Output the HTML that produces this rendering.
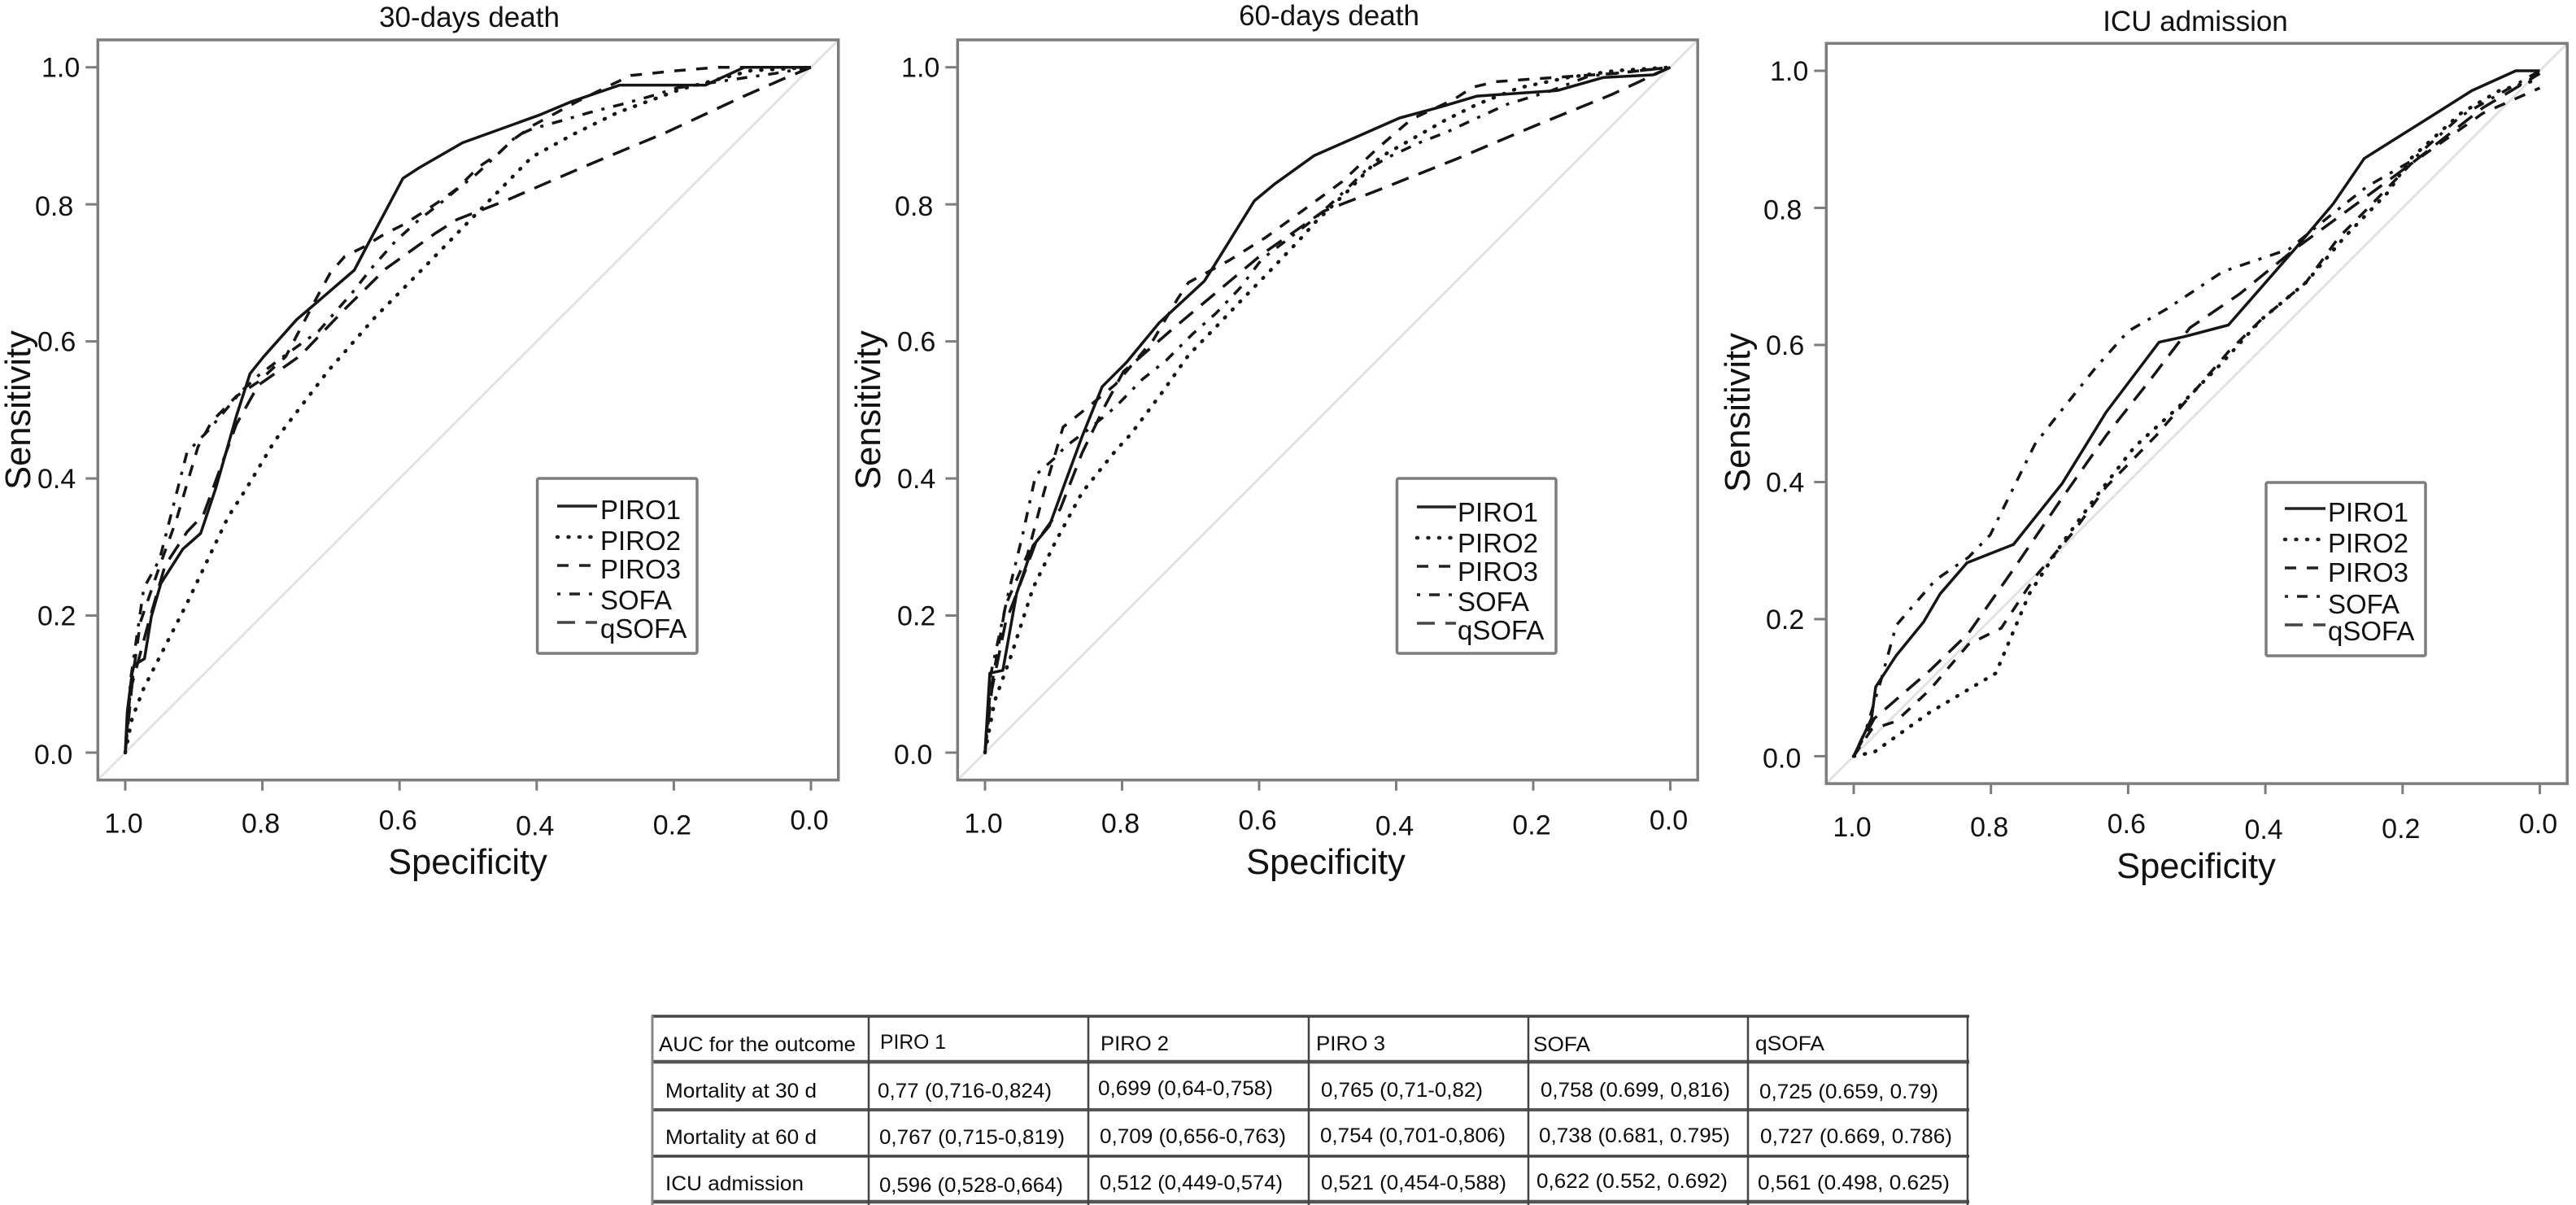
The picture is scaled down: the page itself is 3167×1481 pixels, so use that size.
<!DOCTYPE html>
<html lang="en">
<head>
<meta charset="utf-8">
<title>ROC curves for PIRO, SOFA and qSOFA</title>
<style>
html,body{margin:0;padding:0;background:#fff;width:3167px;height:1481px;overflow:hidden}
svg{display:block;font-family:"Liberation Sans",Arial,sans-serif}
.cell{font-size:25px;fill:#0c0c0c}
</style>
</head>
<body>
<svg id="figure" xmlns="http://www.w3.org/2000/svg" width="3167" height="1481" viewBox="0 0 3167 1481">
<rect x="0" y="0" width="3167" height="1481" fill="#fff"/>
<g id="charts"></g>
<g id="auc-table">
<g stroke="#444" stroke-width="3.5">
<line x1="801" y1="1249" x2="2421" y2="1249"/>
<line x1="801" y1="1305" x2="2421" y2="1305" stroke="#555" stroke-width="4.5"/>
<line x1="801" y1="1364" x2="2421" y2="1364" stroke="#555" stroke-width="4"/>
<line x1="801" y1="1421" x2="2421" y2="1421"/>
<line x1="801" y1="1477" x2="2421" y2="1477" stroke="#555" stroke-width="4.5"/>
<line x1="802" y1="1248" x2="802" y2="1481" stroke="#888" stroke-width="3"/>
<line x1="1068" y1="1248" x2="1068" y2="1481" stroke-width="2.5"/>
<line x1="1338" y1="1248" x2="1338" y2="1481" stroke-width="2.5"/>
<line x1="1609" y1="1248" x2="1609" y2="1481" stroke-width="2.5"/>
<line x1="1879" y1="1248" x2="1879" y2="1481" stroke-width="2.5"/>
<line x1="2149" y1="1248" x2="2149" y2="1481" stroke-width="2.5"/>
<line x1="2419" y1="1248" x2="2419" y2="1481" stroke-width="2.5"/>
</g>
<text class="cell" x="810" y="1292" textLength="242" lengthAdjust="spacingAndGlyphs">AUC for the outcome</text>
<text class="cell" x="1082" y="1289" textLength="81" lengthAdjust="spacingAndGlyphs">PIRO 1</text>
<text class="cell" x="1353" y="1291" textLength="84" lengthAdjust="spacingAndGlyphs">PIRO 2</text>
<text class="cell" x="1618" y="1291" textLength="85" lengthAdjust="spacingAndGlyphs">PIRO 3</text>
<text class="cell" x="1885" y="1292" textLength="70" lengthAdjust="spacingAndGlyphs">SOFA</text>
<text class="cell" x="2158" y="1291" textLength="85" lengthAdjust="spacingAndGlyphs">qSOFA</text>

<text class="cell" x="818" y="1349" textLength="186" lengthAdjust="spacingAndGlyphs">Mortality at 30 d</text>
<text class="cell" x="1079" y="1349" textLength="214" lengthAdjust="spacingAndGlyphs">0,77 (0,716-0,824)</text>
<text class="cell" x="1350" y="1346" textLength="215" lengthAdjust="spacingAndGlyphs">0,699 (0,64-0,758)</text>
<text class="cell" x="1624" y="1348" textLength="199" lengthAdjust="spacingAndGlyphs">0,765 (0,71-0,82)</text>
<text class="cell" x="1894" y="1348" textLength="233" lengthAdjust="spacingAndGlyphs">0,758 (0.699, 0,816)</text>
<text class="cell" x="2163" y="1350" textLength="220" lengthAdjust="spacingAndGlyphs">0,725 (0.659, 0.79)</text>

<text class="cell" x="818" y="1406" textLength="186" lengthAdjust="spacingAndGlyphs">Mortality at 60 d</text>
<text class="cell" x="1081" y="1406" textLength="228" lengthAdjust="spacingAndGlyphs">0,767 (0,715-0,819)</text>
<text class="cell" x="1352" y="1405" textLength="229" lengthAdjust="spacingAndGlyphs">0,709 (0,656-0,763)</text>
<text class="cell" x="1623" y="1404" textLength="228" lengthAdjust="spacingAndGlyphs">0,754 (0,701-0,806)</text>
<text class="cell" x="1892" y="1404" textLength="235" lengthAdjust="spacingAndGlyphs">0,738 (0.681, 0.795)</text>
<text class="cell" x="2164" y="1405" textLength="236" lengthAdjust="spacingAndGlyphs">0,727 (0.669, 0.786)</text>

<text class="cell" x="818" y="1463" textLength="170" lengthAdjust="spacingAndGlyphs">ICU admission</text>
<text class="cell" x="1081" y="1465" textLength="226" lengthAdjust="spacingAndGlyphs">0,596 (0,528-0,664)</text>
<text class="cell" x="1352" y="1462" textLength="225" lengthAdjust="spacingAndGlyphs">0,512 (0,449-0,574)</text>
<text class="cell" x="1624" y="1462" textLength="228" lengthAdjust="spacingAndGlyphs">0,521 (0,454-0,588)</text>
<text class="cell" x="1889" y="1460" textLength="235" lengthAdjust="spacingAndGlyphs">0,622 (0.552, 0.692)</text>
<text class="cell" x="2161" y="1462" textLength="236" lengthAdjust="spacingAndGlyphs">0,561 (0.498, 0.625)</text>
</g>
</svg>
<script>
// Tick labels and series names
const tickLabels = ["0.0", "0.2", "0.4", "0.6", "0.8", "1.0"];
const tickValues = [0, 0.2, 0.4, 0.6, 0.8, 1];
const seriesNames = ["PIRO1", "PIRO2", "PIRO3", "SOFA", "qSOFA"];
const seriesDash = ["none", "1 12.5", "14 13", "4 11 13 11", "22 13"];

// Each point is [specificity, sensitivity]
const d30Piro1 = [[1,0],[.997,.06],[.99,.116],[.987,.128],[.972,.137],[.962,.198],[.948,.247],[.916,.297],[.89,.32],[.868,.386],[.838,.491],[.818,.553],[.798,.578],[.75,.632],[.717,.66],[.666,.704],[.646,.742],[.595,.838],[.572,.853],[.508,.89],[.397,.93],[.349,.95],[.279,.974],[.154,.974],[.097,1],[0,1]];
const d30Piro2 = [[1,0],[.99,.05],[.973,.094],[.91,.218],[.85,.344],[.823,.386],[.782,.455],[.705,.556],[.636,.635],[.568,.704],[.5,.774],[.448,.827],[.407,.869],[.347,.902],[.282,.934],[.19,.968],[.088,.995],[0,1]];
const d30Piro3 = [[1,0],[.994,.075],[.978,.19],[.95,.272],[.926,.338],[.894,.446],[.874,.483],[.838,.52],[.806,.541],[.766,.578],[.718,.669],[.701,.7],[.68,.724],[.652,.738],[.623,.756],[.595,.77],[.568,.787],[.538,.807],[.516,.823],[.484,.855],[.457,.873],[.435,.894],[.404,.916],[.341,.95],[.288,.976],[.263,.988],[.196,.995],[.135,1],[0,1]];
const d30Sofa = [[1,0],[.992,.108],[.973,.24],[.95,.282],[.91,.438],[.878,.471],[.83,.528],[.806,.55],[.772,.576],[.718,.615],[.669,.671],[.639,.709],[.606,.746],[.571,.778],[.541,.801],[.516,.822],[.489,.843],[.461,.869],[.429,.9],[.407,.91],[.364,.922],[.323,.934],[.276,.946],[.233,.958],[.195,.97],[.108,.983],[.053,.991],[0,1]];
const d30Qsofa = [[1,0],[.99,.1],[.966,.19],[.942,.273],[.91,.322],[.886,.347],[.862,.413],[.838,.479],[.806,.536],[.745,.579],[.68,.647],[.62,.706],[.549,.757],[.516,.778],[.446,.805],[.326,.857],[.211,.905],[.102,.956],[.043,.982],[0,1]];

const d60Piro1 = [[1,0],[.993,.116],[.974,.12],[.954,.232],[.93,.302],[.906,.331],[.882,.397],[.858,.462],[.829,.534],[.794,.569],[.746,.627],[.68,.688],[.666,.71],[.607,.805],[.577,.83],[.52,.871],[.395,.926],[.336,.942],[.282,.958],[.165,.966],[.098,.985],[.025,.989],[0,1]];
const d60Piro2 = [[1,0],[.986,.075],[.962,.141],[.93,.24],[.898,.306],[.858,.38],[.81,.44],[.787,.465],[.742,.525],[.703,.58],[.663,.621],[.624,.662],[.585,.702],[.543,.746],[.518,.774],[.47,.82],[.423,.869],[.33,.922],[.282,.946],[.221,.97],[.15,.985],[.08,.995],[0,1]];
const d60Piro3 = [[1,0],[.993,.083],[.97,.215],[.938,.289],[.914,.38],[.886,.475],[.85,.504],[.81,.537],[.754,.603],[.719,.662],[.703,.686],[.644,.718],[.59,.752],[.535,.792],[.479,.833],[.428,.881],[.378,.924],[.316,.953],[.288,.971],[.255,.979],[.142,.987],[.08,.991],[0,1]];
const d60Sofa = [[1,0],[.993,.108],[.966,.232],[.946,.314],[.926,.405],[.898,.43],[.882,.447],[.85,.471],[.81,.504],[.77,.545],[.736,.572],[.697,.611],[.663,.641],[.627,.679],[.596,.72],[.562,.746],[.518,.78],[.484,.811],[.445,.849],[.411,.869],[.366,.89],[.325,.906],[.282,.926],[.238,.946],[.176,.965],[.119,.987],[0,1]];
const d60Qsofa = [[1,0],[.99,.092],[.97,.19],[.954,.232],[.926,.306],[.89,.356],[.858,.438],[.826,.504],[.798,.556],[.73,.615],[.663,.671],[.596,.727],[.506,.79],[.423,.822],[.31,.867],[.199,.914],[.086,.96],[0,1]];

const icuPiro1 = [[1,0],[.974,.055],[.968,.101],[.938,.147],[.898,.196],[.874,.237],[.835,.282],[.767,.309],[.696,.398],[.632,.502],[.555,.604],[.519,.612],[.454,.629],[.357,.74],[.301,.806],[.256,.872],[.164,.93],[.099,.971],[.035,1],[0,1]];
const icuPiro2 = [[1,0],[.97,.006],[.889,.064],[.793,.121],[.744,.237],[.696,.311],[.648,.377],[.591,.451],[.527,.509],[.462,.575],[.406,.637],[.341,.691],[.285,.757],[.221,.823],[.188,.872],[.115,.938],[.059,.971],[0,.988]];
const icuPiro3 = [[1,0],[.974,.039],[.938,.051],[.889,.097],[.833,.163],[.785,.187],[.736,.261],[.68,.327],[.632,.393],[.559,.468],[.503,.533],[.454,.59],[.406,.637],[.341,.691],[.293,.757],[.252,.798],[.188,.864],[.083,.938],[0,.975]];
const icuSofa = [[1,0],[.982,.039],[.962,.105],[.938,.191],[.881,.257],[.833,.29],[.801,.323],[.736,.455],[.704,.496],[.648,.566],[.6,.62],[.543,.653],[.462,.707],[.365,.74],[.309,.786],[.252,.831],[.188,.868],[.115,.934],[0,1]];
const icuQsofa = [[1,0],[.97,.055],[.889,.125],[.833,.179],[.769,.27],[.696,.377],[.632,.468],[.567,.55],[.51,.625],[.438,.674],[.357,.74],[.301,.781],[.188,.864],[.083,.946],[0,.996]];

const panels = [
  { key:"deaths-30", title:"30-days death", series:[d30Piro1,d30Piro2,d30Piro3,d30Sofa,d30Qsofa],
    x1:154, x0:997, y1:82.7, y0:925, titleX:577, titleY:33, xTitleX:575, xTitleY:1074, yTitleX:37, yTitleY:504,
    legend:{x:660.6,y:588,w:196.4,h:215,lineX1:685,lineX2:734,textX:738,rows:[626,664,699,737,772],lines:[622,660,695,730,765]} },
  { key:"deaths-60", title:"60-days death", series:[d60Piro1,d60Piro2,d60Piro3,d60Sofa,d60Qsofa],
    x1:1211, x0:2053.5, y1:82.7, y0:925, titleX:1634, titleY:31, xTitleX:1630, xTitleY:1074, yTitleX:1082, yTitleY:504,
    legend:{x:1717.5,y:588,w:195.5,h:215,lineX1:1742,lineX2:1790,textX:1792,rows:[629,667,702,739,774],lines:[623,661,696,731,766]} },
  { key:"icu", title:"ICU admission", series:[icuPiro1,icuPiro2,icuPiro3,icuSofa,icuQsofa],
    x1:2279, x0:3122.5, y1:87, y0:929.4, titleX:2699, titleY:38, xTitleX:2700, xTitleY:1079, yTitleX:2151, yTitleY:507,
    legend:{x:2786,y:593,w:196,h:213,lineX1:2809,lineX2:2859,textX:2862,rows:[629,667,703,742,775],lines:[625,663,698,733,768]} }
];

// Small label offsets seen in the source figure (ordered like tickValues)
const yLabelRightOffset = [-31, -27, -27, -27, -30, -22];
const yLabelDown = [2, 0, 0, 0, 2, 0];
const xLabelDown = [49, 55, 56, 49, 53, 53];

const NS = "http://www.w3.org/2000/svg";
const AXIS_PAD = 0.04;
const root = document.getElementById("charts");

function make(tag, attrs, parent, content) {
  const el = document.createElementNS(NS, tag);
  for (const k in attrs) el.setAttribute(k, attrs[k]);
  if (content !== undefined) el.textContent = content;
  parent.appendChild(el);
  return el;
}

panels.forEach(function (p) {
  const xScale = function (spec) { return p.x0 + (p.x1 - p.x0) * spec; };
  const yScale = function (sens) { return p.y0 + (p.y1 - p.y0) * sens; };
  const left = xScale(1 + AXIS_PAD), right = xScale(-AXIS_PAD);
  const top = yScale(1 + AXIS_PAD), bottom = yScale(-AXIS_PAD);

  const g = make("g", {}, root);
  
  

  const title = make("text", {x:p.titleX, y:p.titleY, "text-anchor":"middle", "font-size":35, fill:"#111"}, g, p.title);
  
  

  const diag = make("line", {x1:left, y1:bottom, x2:right, y2:top, stroke:"#e2e2e2", "stroke-width":3}, g);
  
  

  const box = make("rect", {x:left, y:top, width:right-left, height:bottom-top, fill:"none", stroke:"#7d7d7d", "stroke-width":3.5}, g);
  
  

  tickValues.forEach(function (v, i) {
    const xt = make("line", {x1:xScale(v), y1:bottom, x2:xScale(v), y2:bottom+13, stroke:"#7d7d7d", "stroke-width":3}, g);
    
    
    const yt = make("line", {x1:left-15, y1:yScale(v), x2:left, y2:yScale(v), stroke:"#7d7d7d", "stroke-width":3}, g);
    
    
    const xl = make("text", {x:xScale(v)-2, y:bottom+xLabelDown[i]+12, "text-anchor":"middle", "font-size":34, fill:"#111"}, g, tickLabels[i]);
    
    
    const yl = make("text", {x:left+yLabelRightOffset[i], y:yScale(v)+12+yLabelDown[i], "text-anchor":"end", "font-size":34, fill:"#111"}, g, tickLabels[i]);
    
    
  });

  const xTitle = make("text", {x:p.xTitleX, y:p.xTitleY, "text-anchor":"middle", "font-size":43.5, fill:"#111"}, g, "Specificity");
  
  
  const yTitle = make("text", {x:p.yTitleX, y:p.yTitleY, "text-anchor":"middle", "font-size":43.5, fill:"#111", transform:"rotate(-90 "+p.yTitleX+" "+p.yTitleY+")"}, g, "Sensitivity");
  
  

  p.series.forEach(function (pts, i) {
    const d = pts.map(function (pt) { return xScale(pt[0]).toFixed(1) + "," + yScale(pt[1]).toFixed(1); }).join(" ");
    const line = make("polyline", {points:d, fill:"none", stroke:"#151515", "stroke-width":i===1?4.5:3.5, "stroke-dasharray":seriesDash[i], "stroke-linejoin":"round", "stroke-linecap":i===1?"round":"butt"}, g);
    
    
  });

  const lg = make("g", {}, g);
  
  
  const lb = make("rect", {x:p.legend.x, y:p.legend.y, width:p.legend.w, height:p.legend.h, fill:"#fff", stroke:"#7d7d7d", "stroke-width":3.5, rx:2}, lg);
  
  
  seriesNames.forEach(function (name, i) {
    const ll = make("line", {x1:p.legend.lineX1, y1:p.legend.lines[i], x2:p.legend.lineX2, y2:p.legend.lines[i], stroke:i===4?"#444":"#222", "stroke-width":i===1?4.5:3.5, "stroke-dasharray":seriesDash[i], "stroke-linecap":i===1?"round":"butt"}, lg);
    
    
    const lt = make("text", {x:p.legend.textX, y:p.legend.rows[i]+12, "font-size":33, fill:"#111"}, lg, name);
    
    
  });
});
</script>
</body>
</html>
